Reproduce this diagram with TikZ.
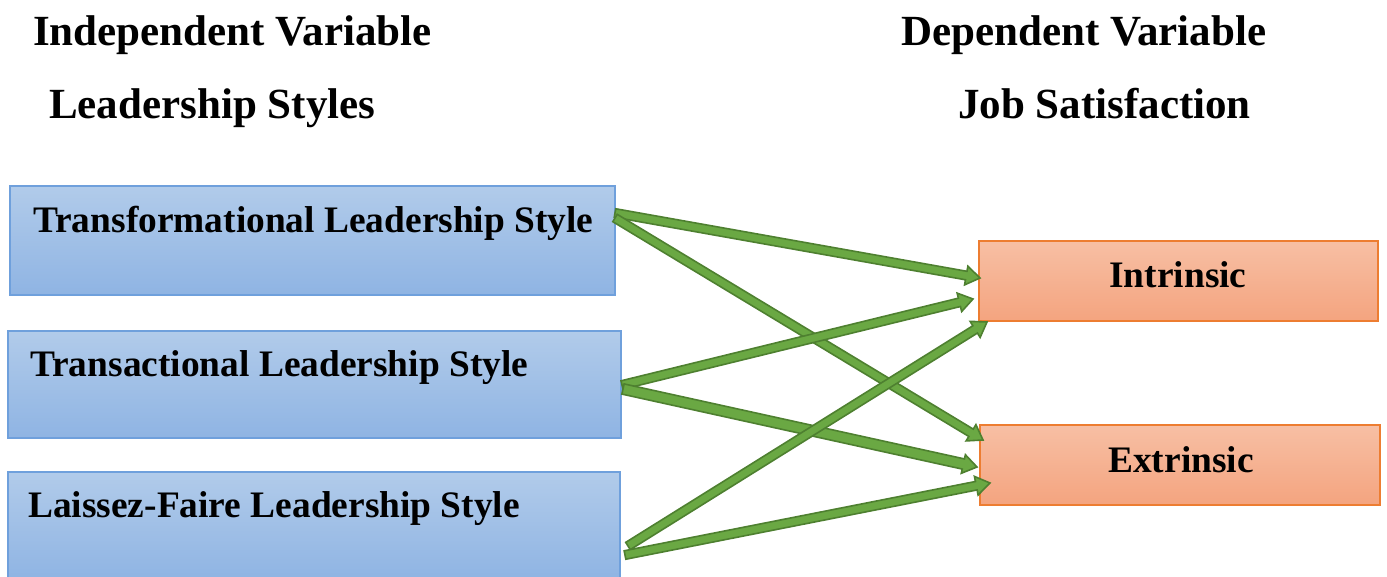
\documentclass[tikz,border=0pt]{standalone}
\usepackage{fontspec}
\setmainfont{Liberation Serif}
\usetikzlibrary{calc}
\definecolor{bluetop}{HTML}{B1CBEA}
\definecolor{bluebot}{HTML}{8FB4E3}
\definecolor{blueline}{HTML}{6FA0DC}
\definecolor{orgtop}{HTML}{F7BFA4}
\definecolor{orgbot}{HTML}{F4A47F}
\definecolor{orgline}{HTML}{ED7D31}
\definecolor{arrfill}{HTML}{6AA843}
\definecolor{arrline}{HTML}{4E8030}
\tikzset{
  bluebox/.style={draw=blueline, line width=1.2pt, top color=bluetop, bottom color=bluebot},
  orgbox/.style={draw=orgline, line width=1.2pt, top color=orgtop, bottom color=orgbot},
  title/.style={font=\fontsize{43}{50}\selectfont\bfseries, inner sep=0pt},
  boxtext/.style={font=\fontsize{37.4}{44}\selectfont\bfseries, inner sep=0pt},
  arrowshape/.style={fill=arrfill, draw=arrline, line width=1.6pt, line join=miter},
}
\newcommand\blockarr[3][4.3pt]{%
  \coordinate (hb) at ($(#3)!14pt!(#2)$);
  \filldraw[arrowshape] ($(#2)!#1!90:(#3)$) -- ($(hb)!#1!90:(#3)$) -- ($(hb)!9.5pt!90:(#3)$) -- (#3)
     -- ($(hb)!9.5pt!-90:(#3)$) -- ($(hb)!#1!-90:(#3)$) -- ($(#2)!#1!-90:(#3)$) -- cycle;
}
\begin{document}
\begin{tikzpicture}[x=1pt,y=-1pt]
\useasboundingbox (0,0) rectangle (1387,576);
% titles
\node[title, anchor=base west] (iv) at (33,45) {Independent Variable};
\node[title, anchor=base west] (ls) at (49,118) {Leadership Styles};
\node[title, anchor=base west] (dv) at (901,45) {Dependent Variable};
\node[title, anchor=base west] (js) at (958,118) {Job Satisfaction};
% boxes
\path[bluebox] (10,186) rectangle (615,295);
\path[bluebox] (8,331) rectangle (621,438);
\path[bluebox] (8,472) rectangle (620,580);
\path[orgbox] (979,241) rectangle (1378,321);
\path[orgbox] (980,425) rectangle (1380,505);
\node[boxtext, anchor=base west] (t1) at (33,232) {Transformational Leadership Style};
\node[boxtext, anchor=base west] (t2) at (30,376) {Transactional Leadership Style};
\node[boxtext, anchor=base west] (t3) at (28,517) {Laissez-Faire Leadership Style};
\node[boxtext, anchor=base] (in) at (1178,287) {Intrinsic};
\node[boxtext, anchor=base] (ex) at (1181,472) {Extrinsic};
% arrow end points
\coordinate (a1s) at (615,213); \coordinate (a1e) at (980,278);
\coordinate (a2s) at (615,218); \coordinate (a2e) at (983,440);
\coordinate (a3s) at (622,385); \coordinate (a3e) at (973,299);
\coordinate (a4s) at (623,389); \coordinate (a4e) at (977,467);
\coordinate (a5s) at (628,546); \coordinate (a5e) at (987,322);
\coordinate (a6s) at (625,555); \coordinate (a6e) at (990,483);
\blockarr{a1s}{a1e}
\blockarr{a2s}{a2e}
\blockarr{a3s}{a3e}
\blockarr[5.2pt]{a4s}{a4e}
\blockarr{a5s}{a5e}
\blockarr{a6s}{a6e}
\end{tikzpicture}
\end{document}
